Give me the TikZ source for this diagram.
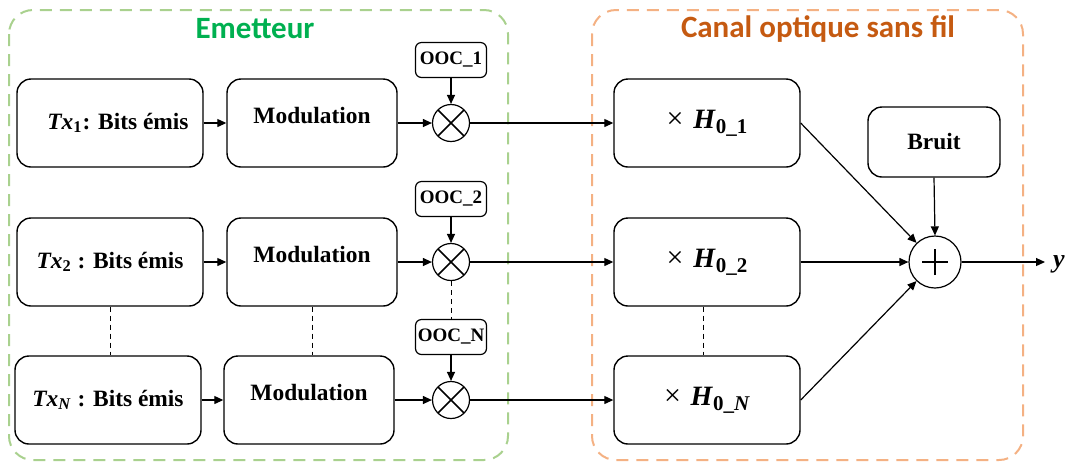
\documentclass[tikz,border=0pt]{standalone}
\usepackage{fontspec}
\setmainfont{Liberation Serif}
\newfontfamily\titlefont{Carlito}
\usetikzlibrary{arrows.meta}

\definecolor{vertclair}{RGB}{169,209,142}
\definecolor{vertfonce}{RGB}{0,176,80}
\definecolor{orangeclair}{RGB}{244,177,131}
\definecolor{orangefonce}{RGB}{197,90,17}

\tikzset{
	bloc/.style={draw, rounded corners=7pt, line width=0.7pt, inner sep=1pt,
		font=\fontsize{11.7}{14}\selectfont\bfseries},
	grandbloc/.style={bloc, minimum width=93pt, minimum height=44pt},
	modbloc/.style={bloc, minimum width=85pt, minimum height=44pt, text depth=8pt},
	codebloc/.style={draw, rounded corners=3pt, line width=0.6pt, inner sep=0pt,
		minimum width=35.5pt, minimum height=17.5pt,
		font=\fontsize{9.5}{11}\selectfont\bfseries},
	mult/.style={draw, circle, line width=0.6pt, minimum size=18.5pt, inner sep=0pt,
		path picture={
			\draw[line width=0.8pt] ([shift={(-6.4pt,-6.4pt)}]path picture bounding box.center)
				-- ([shift={(6.4pt,6.4pt)}]path picture bounding box.center);
			\draw[line width=0.8pt] ([shift={(-6.4pt,6.4pt)}]path picture bounding box.center)
				-- ([shift={(6.4pt,-6.4pt)}]path picture bounding box.center);}},
	somme/.style={draw, circle, line width=0.6pt, minimum size=26pt, inner sep=0pt,
		path picture={
			\draw[line width=0.9pt] ([xshift=-6.5pt]path picture bounding box.center)
				-- ([xshift=6.5pt]path picture bounding box.center);
			\draw[line width=0.9pt] ([yshift=-6.5pt]path picture bounding box.center)
				-- ([yshift=6.5pt]path picture bounding box.center);}},
	fleche/.style={-{Triangle[length=4.5pt,width=4pt]}, line width=0.6pt},
	pointille/.style={line width=0.5pt, dash pattern=on 2.5pt off 2pt},
	cadre/.style={rounded corners=12pt, line width=1pt, dash pattern=on 6pt off 4pt},
	titre/.style={font=\titlefont\fontsize{15.5}{18}\selectfont\bfseries}
}

\newcommand{\Hcanal}[1]{{\fontsize{15}{17}\selectfont\mdseries\texttimes}\,
	{\fontsize{14}{16}\selectfont\textit{H}}\raisebox{-2.5pt}{\fontsize{10.5}{12}\selectfont #1}}

\begin{document}
\begin{tikzpicture}[x=0.5pt, y=-0.5pt]
	\useasboundingbox (0,0) rectangle (1070,463);

	% Cadres
	\draw[cadre, draw=vertclair] (9,10) rectangle (508,460);
	\draw[cadre, draw=orangeclair] (592,10) rectangle (1023,460);
	\node[titre, text=vertfonce] (titreE) at (255,29) {Emetteur};
	\node[titre, text=orangefonce] (titreC) at (818,29) {Canal optique sans fil};

	% Emetteur
	\node[grandbloc] (tx1) at (110,123) {\hspace*{8pt}\textit{Tx}\textsubscript{1}: Bits émis};
	\node[grandbloc] (tx2) at (110,262) {\textit{Tx}\textsubscript{2} : Bits émis};
	\node[grandbloc] (txN) at (108,400) {\textit{Tx}\textsubscript{\textit{N}} : Bits émis};

	\node[modbloc] (mod1) at (312,123) {Modulation};
	\node[modbloc] (mod2) at (312,262) {Modulation};
	\node[modbloc] (modN) at (309,400) {Modulation};

	\node[codebloc] (ooc1) at (451,60) {OOC\_1};
	\node[codebloc] (ooc2) at (451,199) {OOC\_2};
	\node[codebloc] (oocN) at (451,337) {OOC\_N};

	\node[mult] (m1) at (451,123) {};
	\node[mult] (m2) at (451,262) {};
	\node[mult] (mN) at (451,400) {};

	% Canal
	\node[grandbloc] (h1) at (707,123) {\Hcanal{0\_1}};
	\node[grandbloc] (h2) at (707,262) {\Hcanal{0\_2}};
	\node[grandbloc] (hN) at (707,400) {\Hcanal{0\_\textit{N}}};

	\node[bloc, minimum width=66pt, minimum height=35pt] (bruit) at (934,142) {Bruit};
	\node[somme] (s) at (935,262) {};
	\coordinate (sortie) at (1045,262);
	\node (y) at (1059,264) {\fontsize{13}{15}\selectfont\textbf{\textit{y}}};

	% Liaisons
	\foreach \i in {1,2,N} {
		\draw[fleche] (tx\i.east) -- (mod\i.west);
		\draw[fleche] (mod\i.east) -- (m\i.west);
		\draw[fleche] (ooc\i.south) -- (m\i.north);
		\draw[fleche] (m\i.east) -- (m\i -| h\i.west);
	}
	\draw[fleche] (h1.east) -- (s);
	\draw[fleche] (h2.east) -- (s.west);
	\draw[fleche] (hN.east) -- (s);
	\draw[fleche] (bruit.south) -- (s.north);
	\draw[fleche] (s.east) -- (sortie);

	% Pointilles
	\draw[pointille] (tx2.south) -- (tx2.south |- txN.north);
	\draw[pointille] (mod2.south) -- (mod2.south |- modN.north);
	\draw[pointille] (m2.south) -- (oocN.north);
	\draw[pointille] ([xshift=-2pt]h2.south) -- ([xshift=-2pt]h2.south |- hN.north);
\end{tikzpicture}
\end{document}
